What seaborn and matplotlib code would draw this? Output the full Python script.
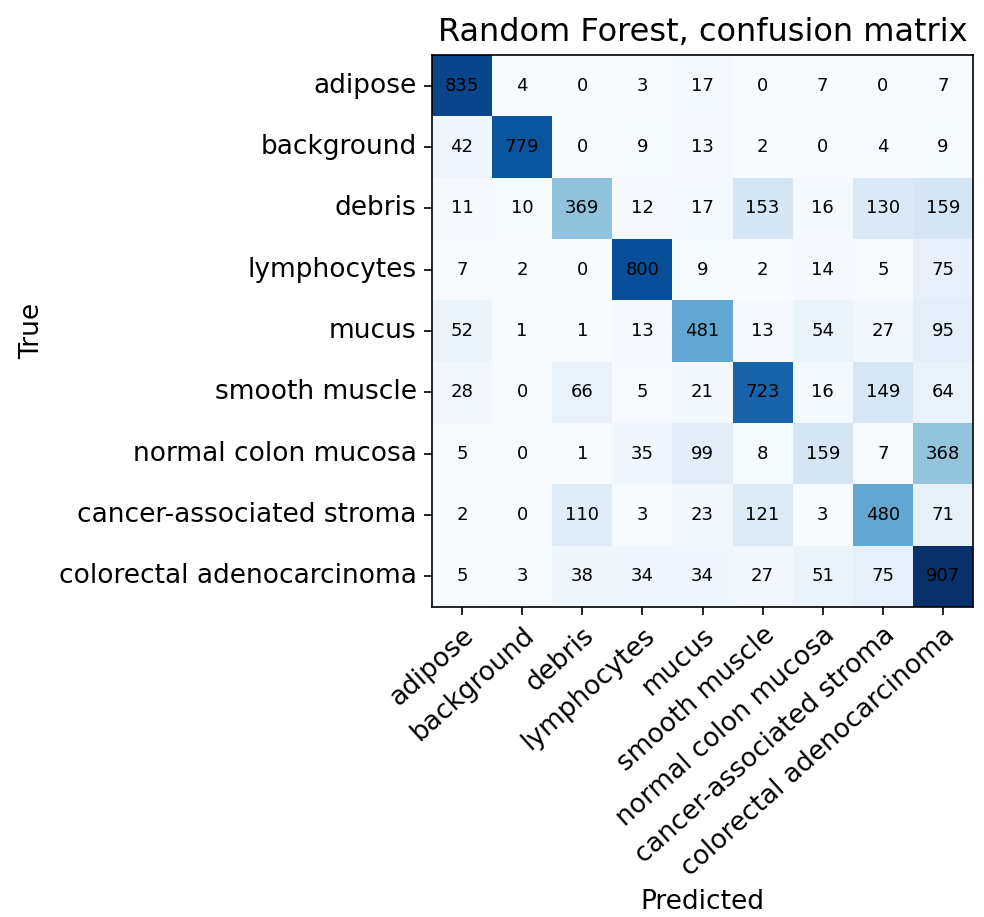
import numpy as np
import pandas as pd
import matplotlib
matplotlib.use("Agg")
import matplotlib.pyplot as plt
import seaborn as sns

classes = ["adipose", "background", "debris", "lymphocytes", "mucus",
           "smooth muscle", "normal colon mucosa", "cancer-associated stroma",
           "colorectal adenocarcinoma"]

row_adipose = [835, 4, 0, 3, 17, 0, 7, 0, 7]
row_background = [42, 779, 0, 9, 13, 2, 0, 4, 9]
row_debris = [11, 10, 369, 12, 17, 153, 16, 130, 159]
row_lymphocytes = [7, 2, 0, 800, 9, 2, 14, 5, 75]
row_mucus = [52, 1, 1, 13, 481, 13, 54, 27, 95]
row_smooth_muscle = [28, 0, 66, 5, 21, 723, 16, 149, 64]
row_normal_mucosa = [5, 0, 1, 35, 99, 8, 159, 7, 368]
row_stroma = [2, 0, 110, 3, 23, 121, 3, 480, 71]
row_adenocarcinoma = [5, 3, 38, 34, 34, 27, 51, 75, 907]

matrix = pd.DataFrame(
    [row_adipose, row_background, row_debris, row_lymphocytes, row_mucus,
     row_smooth_muscle, row_normal_mucosa, row_stroma, row_adenocarcinoma],
    index=classes, columns=classes)

fig = plt.figure(figsize=(9.84, 9.17), dpi=100)
ax = fig.add_axes([432 / 984, 1 - 607 / 917, 541 / 984, 552 / 917])

sns.heatmap(matrix, ax=ax, cmap="Blues", cbar=False, annot=True, fmt="d",
            annot_kws={"color": "black", "fontsize": 13},
            vmin=0, vmax=matrix.values.max())

for spine in ax.spines.values():
    spine.set_visible(True)
    spine.set_color("black")
    spine.set_linewidth(1.2)

ax.tick_params(axis="both", length=6, width=1.2, labelsize=19, pad=5)
ax.set_xticklabels(classes, rotation=42, ha="right", rotation_mode="anchor")
ax.set_yticklabels(classes, rotation=0)
ax.set_xlabel("Predicted", fontsize=19, labelpad=6)
ax.set_ylabel("True", fontsize=19, labelpad=10)
ax.set_title("Random Forest, confusion matrix", fontsize=23, pad=10)

fig.savefig("out.png", dpi=100)
